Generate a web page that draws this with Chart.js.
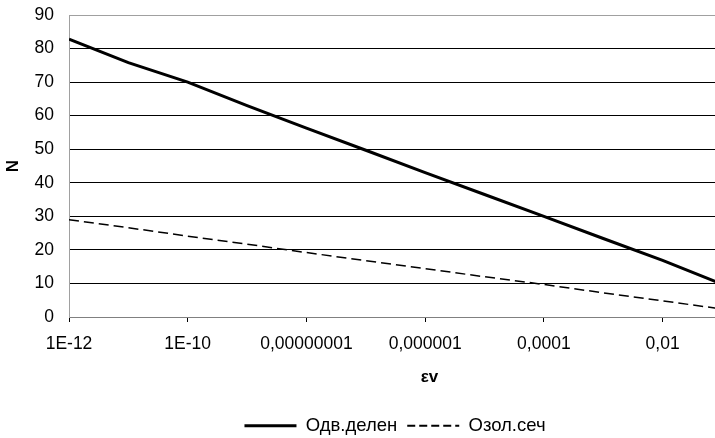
<!DOCTYPE html>
<html>
<head>
<meta charset="utf-8">
<script src="https://cdn.jsdelivr.net/npm/chart.js@4/dist/chart.umd.min.js"></script>
<style>
  html, body { margin: 0; padding: 0; background: #fff; overflow: hidden; }
  /* the original chart is wider than the visible frame and cut on the right */
  #frame { width: 715px; height: 438px; overflow: hidden; }
  #wrap { position: relative; width: 790px; height: 438px; }
</style>
</head>
<body>
<div id="frame"><div id="wrap"><canvas id="chart"></canvas></div></div>
<script>
/* data */
const epsV = [1e-12, 1e-11, 1e-10, 1e-9, 1e-8, 1e-7, 1e-6, 1e-5, 1e-4, 1e-3, 1e-2, 1e-1];
const odvDelen = [82.8, 75.8, 70, 63, 56.3, 49.7, 43, 36.5, 30, 23.4, 16.9, 9.8];
const ozolSech = [29, 26.6, 24.1, 21.7, 19.2, 16.8, 14.4, 12.0, 9.7, 7.2, 4.8, 2.4];
const xTickValues = [1e-12, 1e-10, 1e-8, 1e-6, 1e-4, 1e-2];
const xTickLabels = ['1E-12', '1E-10', '0,00000001', '0,000001', '0,0001', '0,01'];

const FONT = 'Liberation Sans, Arial, sans-serif';

const toPoints = ys => epsV.map((x, i) => ({ x: x, y: ys[i] }));

new Chart(document.getElementById('chart'), {
  type: 'line',
  data: {
    datasets: [{
      label: 'Одв.делен',
      data: toPoints(odvDelen),
      borderColor: '#000',
      backgroundColor: '#000',
      borderWidth: 3,
      pointRadius: 0,
      tension: 0
    }, {
      label: 'Озол.сеч',
      data: toPoints(ozolSech),
      borderColor: '#000',
      backgroundColor: '#000',
      borderWidth: 1.5,
      borderDash: [10, 5],
      pointRadius: 0,
      tension: 0
    }]
  },
  options: {
    responsive: true,
    maintainAspectRatio: false,
    animation: false,
    layout: { padding: { top: 15, right: 0, left: 0, bottom: -7 } },
    plugins: {
      tooltip: { enabled: false },
      legend: {
        position: 'bottom',
        labels: {
          usePointStyle: true,
          pointStyle: 'line',
          pointStyleWidth: 52,
          padding: 10,
          color: '#000',
          font: { family: FONT, size: 18.5 },
          // point-style legend items lose the dataset dash, so put it back
          generateLabels: c => Chart.defaults.plugins.legend.labels.generateLabels(c)
            .map((item, i) => Object.assign(item, {
              lineDash: c.data.datasets[i].borderDash ? [8, 4] : [],
              lineWidth: c.data.datasets[i].borderDash ? 2 : 3
            }))
        }
      }
    },
    scales: {
      x: {
        type: 'logarithmic',
        min: 1e-12,
        max: 1.4,
        afterBuildTicks: s => { s.ticks = xTickValues.map(v => ({ value: v })); },
        ticks: {
          autoSkip: false,
          maxRotation: 0,
          padding: 11.5,
          color: '#000',
          font: { family: FONT, size: 17.5 },
          callback: (v, i) => xTickLabels[i]
        },
        grid: { drawOnChartArea: false, tickLength: 5, color: '#000' },
        border: { color: '#808080', width: 1 },
        title: {
          display: true,
          text: 'εv',
          color: '#000',
          font: { family: FONT, size: 17, weight: 'bold' },
          padding: { top: 1.6, bottom: 18.5 }
        }
      },
      y: {
        min: 0,
        max: 90,
        afterFit: s => { s.width = 69; s.paddingTop = 0; },
        ticks: {
          stepSize: 10,
          padding: 15,
          color: '#000',
          font: { family: FONT, size: 17.5 }
        },
        grid: {
          drawTicks: false,
          color: c => (c.tick.value === 90 ? '#a0a0a0' : (c.tick.value === 0 ? '#808080' : '#000'))
        },
        border: { color: '#a0a0a0', width: 1 },
        title: {
          display: true,
          text: 'N',
          color: '#000',
          font: { family: FONT, size: 17, weight: 'bold' },
          padding: { top: 3, bottom: 0 }
        }
      }
    }
  }
});
</script>
</body>
</html>
